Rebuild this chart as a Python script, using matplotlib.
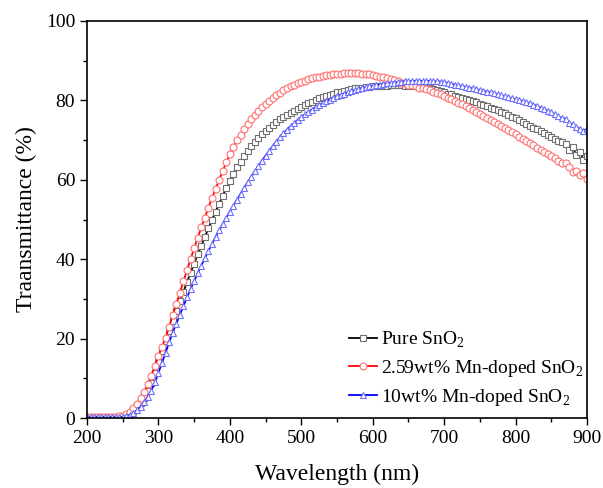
import matplotlib
matplotlib.use("Agg")
import matplotlib.pyplot as plt
import numpy as np
from matplotlib.ticker import MultipleLocator

plt.rcParams["font.family"] = ["Liberation Serif", "DejaVu Serif"]
plt.rcParams["mathtext.fontset"] = "custom"
plt.rcParams["mathtext.rm"] = "Liberation Serif"

# wavelength grid of the measured spectra (nm)
wavelength = np.arange(200, 905, 5)

pure_sno2 = [
    0.3, 0.3, 0.3, 0.3, 0.3, 0.3, 0.3, 0.3, 0.3, 0.3,
    0.4, 0.7, 1.1, 1.8, 2.7, 3.8, 5.1, 6.8, 8.8, 11.3,
    14.0, 16.8, 19.4, 21.9, 24.4, 26.9, 29.4, 31.8, 34.2, 36.6,
    38.9, 41.2, 43.4, 45.6, 47.8, 49.9, 52.0, 54.0, 56.0, 57.9,
    59.8, 61.5, 63.1, 64.6, 66.0, 67.3, 68.5, 69.6, 70.6, 71.5,
    72.3, 73.1, 73.8, 74.5, 75.2, 75.8, 76.4, 76.9, 77.4, 77.9,
    78.4, 78.9, 79.3, 79.7, 80.1, 80.5, 80.8, 81.1, 81.4, 81.7,
    82.0, 82.2, 82.4, 82.6, 82.8, 83.0, 83.1, 83.2, 83.3, 83.4,
    83.5, 83.6, 83.6, 83.7, 83.7, 83.8, 83.8, 83.8, 83.8, 83.7,
    83.7, 83.6, 83.5, 83.4, 83.3, 83.1, 83.0, 82.8, 82.5, 82.3,
    82.0, 81.7, 81.5, 81.2, 80.9, 80.6, 80.4, 80.1, 79.8, 79.5,
    79.2, 78.8, 78.5, 78.2, 77.8, 77.5, 77.1, 76.7, 76.3, 75.9,
    75.5, 75.0, 74.5, 74.0, 73.5, 73.1, 72.7, 72.2, 71.8, 71.3,
    70.8, 70.3, 69.8, 69.4, 68.9, 67.6, 68.2, 66.2, 67.0, 65.1,
    66.0,
]

mn_259 = [
    0.3, 0.3, 0.3, 0.3, 0.3, 0.3, 0.3, 0.3, 0.3, 0.4,
    0.5, 0.9, 1.5, 2.4, 3.6, 5.0, 6.6, 8.5, 10.7, 13.1,
    15.6, 17.9, 20.2, 23.0, 25.9, 28.7, 31.6, 34.4, 37.2, 40.0,
    42.8, 45.4, 48.0, 50.5, 53.0, 55.4, 57.7, 60.0, 62.2, 64.4,
    66.4, 68.2, 69.9, 71.4, 72.8, 74.1, 75.3, 76.4, 77.4, 78.3,
    79.1, 79.9, 80.6, 81.3, 81.9, 82.5, 83.0, 83.5, 83.9, 84.3,
    84.7, 85.0, 85.3, 85.6, 85.8, 86.0, 86.2, 86.4, 86.5, 86.6,
    86.7, 86.7, 86.8, 86.8, 86.8, 86.8, 86.8, 86.7, 86.7, 86.6,
    86.4, 86.2, 86.0, 85.8, 85.6, 85.4, 85.1, 84.8, 84.5, 84.3,
    84.0, 83.8, 83.5, 83.2, 83.0, 82.8, 82.5, 82.2, 81.9, 81.5,
    81.1, 80.7, 80.3, 79.8, 79.4, 79.0, 78.5, 78.1, 77.6, 77.1,
    76.6, 76.1, 75.6, 75.1, 74.6, 74.1, 73.6, 73.1, 72.6, 72.0,
    71.5, 70.9, 70.3, 69.8, 69.2, 68.7, 68.1, 67.6, 67.0, 66.5,
    65.9, 65.4, 64.8, 64.3, 64.2, 63.1, 62.0, 62.3, 61.2, 61.6,
    60.2,
]

mn_10 = [
    0.3, 0.3, 0.3, 0.3, 0.3, 0.3, 0.3, 0.3, 0.3, 0.3,
    0.3, 0.5, 0.8, 1.3, 2.0, 2.9, 4.0, 5.3, 6.9, 9.0,
    11.4, 13.9, 16.5, 19.1, 21.5, 23.8, 26.0, 28.2, 30.4, 32.5,
    34.5, 36.5, 38.4, 40.3, 42.1, 43.9, 45.6, 47.3, 48.9, 50.5,
    52.0, 53.5, 55.0, 56.5, 58.0, 59.4, 60.8, 62.2, 63.5, 64.8,
    66.1, 67.3, 68.5, 69.6, 70.7, 71.7, 72.6, 73.5, 74.3, 75.1,
    75.8, 76.5, 77.1, 77.7, 78.3, 78.8, 79.3, 79.8, 80.2, 80.6,
    81.0, 81.4, 81.7, 82.0, 82.3, 82.6, 82.9, 83.1, 83.3, 83.5,
    83.7, 83.9, 84.0, 84.2, 84.3, 84.4, 84.5, 84.6, 84.7, 84.8,
    84.8, 84.9, 84.9, 84.9, 84.9, 84.9, 84.9, 84.8, 84.8, 84.7,
    84.6, 84.4, 84.2, 84.0, 83.8, 83.6, 83.4, 83.2, 83.0, 82.8,
    82.6, 82.4, 82.2, 82.0, 81.8, 81.5, 81.3, 81.0, 80.8, 80.5,
    80.3, 80.0, 79.8, 79.5, 79.3, 78.9, 78.6, 78.2, 77.8, 77.4,
    77.0, 76.5, 76.0, 75.5, 75.4, 74.3, 74.0, 73.2, 72.9, 72.4,
    72.8,
]

series = [
    (pure_sno2, "Pure SnO$_2$", "black", "#707070", "s"),
    (mn_259, "2.59wt% Mn-doped SnO$_2$", "red", "#ff7070", "o"),
    (mn_10, "10wt% Mn-doped SnO$_2$", "blue", "#7070ff", "^"),
]

figure = plt.figure(figsize=(6.03, 4.88), dpi=100)
axis = figure.add_axes([0.1443, 0.1434, 0.8292, 0.8136])

for values, label, color, edge, marker in series:
    axis.plot(
        wavelength,
        values,
        color=color,
        linewidth=1.3,
        marker=marker,
        markersize=5,
        markerfacecolor="white",
        markeredgecolor=edge,
        markeredgewidth=0.8,
        label=label,
    )

axis.set_xlim(200, 900)
axis.set_ylim(0, 100)
axis.xaxis.set_major_locator(MultipleLocator(100))
axis.xaxis.set_minor_locator(MultipleLocator(50))
axis.yaxis.set_major_locator(MultipleLocator(20))
axis.yaxis.set_minor_locator(MultipleLocator(10))
axis.tick_params(which="both", direction="out", top=False, right=False,
                 labelsize=14, width=1.0)
axis.tick_params(which="major", length=5)
axis.tick_params(which="minor", length=3)
for spine in axis.spines.values():
    spine.set_linewidth(1.2)

axis.set_xlabel("Wavelength (nm)", fontsize=17, labelpad=12)
axis.set_ylabel("Traansmittance (%)", fontsize=17, labelpad=6)

axis.legend(
    loc="lower right",
    bbox_to_anchor=(1.016, -0.004),
    frameon=False,
    fontsize=14,
    numpoints=1,
    handlelength=1.45,
    handletextpad=0.2,
    labelspacing=0.42,
    borderaxespad=0.2,
)

figure.savefig("out.png", dpi=100)
plt.close(figure)
